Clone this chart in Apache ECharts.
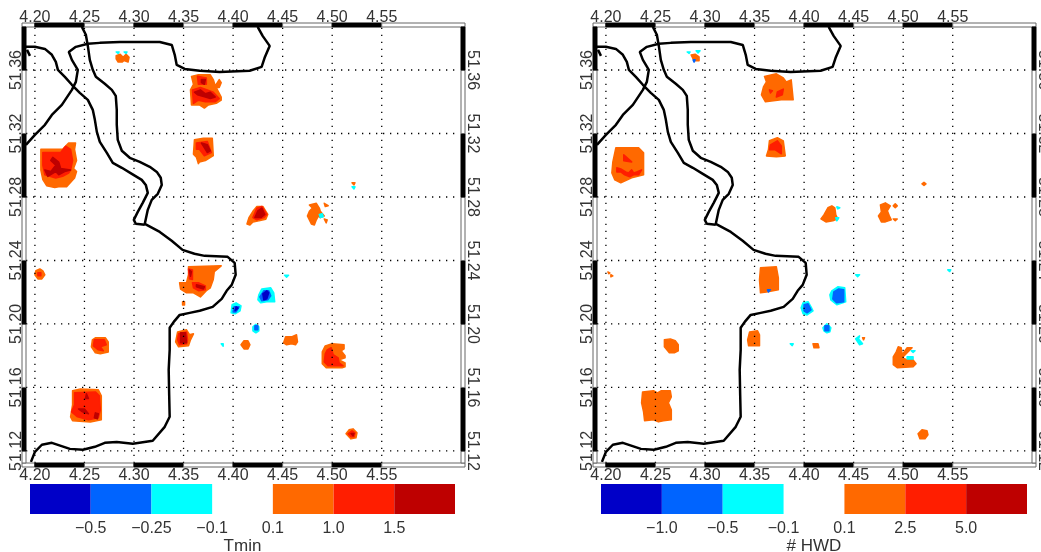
<!DOCTYPE html>
<html><head><meta charset="utf-8">
<style>html,body{margin:0;padding:0;background:#fff;overflow:hidden}#c{width:1041px;height:552px}</style>
<script src="https://cdn.jsdelivr.net/npm/echarts@6/dist/echarts.min.js"></script>
</head><body><div id="c"></div>
<script>
const lonTicks=[4.20,4.25,4.30,4.35,4.40,4.45,4.50,4.55];
const latTicks=[51.12,51.16,51.20,51.24,51.28,51.32,51.36];
const lonMin=4.191, lonMax=4.63, latMin=51.1124, latMax=51.3871;
const bins=['#0000c8','#0064ff','#00ffff',null,'#ff6900','#ff1e00','#be0000'];
const tminLabels=['\u22120.5','\u22120.25','\u22120.1','0.1','1.0','1.5'];
const hwdLabels=['\u22121.0','\u22120.5','\u22120.1','0.1','2.5','5.0'];

const coastA=[[4.2474,51.3872],[4.2514,51.3822],[4.2534,51.3752],[4.2554,51.3664],[4.2584,51.3601],[4.2615,51.3557],[4.2705,51.3513],[4.2776,51.3475],[4.2816,51.3437],[4.2826,51.3349],[4.2826,51.3255],[4.2836,51.3160],[4.2877,51.3091],[4.2957,51.3047],[4.3058,51.3021],[4.3159,51.2990],[4.3230,51.2958],[4.3270,51.2921],[4.3280,51.2876],[4.3240,51.2820],[4.3179,51.2782],[4.3139,51.2719],[4.3109,51.2631],[4.326,51.258],[4.338,51.2524],[4.349,51.2467],[4.361,51.2442],[4.3713,51.2429],[4.3945,51.2423],[4.4016,51.2385],[4.4026,51.2310],[4.3986,51.2246],[4.3935,51.2209],[4.3885,51.2158],[4.3794,51.2108],[4.3663,51.2083],[4.3562,51.2070],[4.3461,51.2057],[4.3401,51.2013],[4.336,51.1976],[4.336,51.1837],[4.335,51.1711],[4.3355,51.1553],[4.336,51.1415],[4.331,51.1352],[4.3189,51.1264],[4.2988,51.1245],[4.2826,51.1257],[4.2705,51.1251],[4.2605,51.1226],[4.2484,51.1207],[4.2353,51.1213],[4.2171,51.1251],[4.207,51.1239],[4.2,51.1194],[4.196,51.1131]];
const coastB=[[4.1909,51.3746],[4.2,51.3746],[4.2101,51.3733],[4.2171,51.3696],[4.2211,51.3651],[4.2232,51.3601],[4.2302,51.3557],[4.2373,51.3507],[4.2453,51.3456],[4.2534,51.3412],[4.2584,51.3349],[4.2605,51.3286],[4.2625,51.3210],[4.2655,51.3147],[4.2726,51.3078],[4.2786,51.3015],[4.2877,51.2984],[4.2978,51.2946],[4.3078,51.2908],[4.3119,51.2876],[4.3139,51.2826],[4.3088,51.2763],[4.3038,51.2706],[4.2998,51.2656],[4.3018,51.2631],[4.3109,51.2625]];
const coastC=[[4.1909,51.3128],[4.2,51.3191],[4.2101,51.3255],[4.2171,51.3317],[4.2272,51.3380],[4.2373,51.3475],[4.2413,51.3525],[4.2433,51.3601],[4.2373,51.3664],[4.2342,51.3714],[4.2413,51.3746],[4.2534,51.3765],[4.2655,51.3771],[4.2857,51.3777],[4.3058,51.3777],[4.326,51.3777],[4.3381,51.3758],[4.3411,51.3696],[4.3431,51.3632],[4.3512,51.3607],[4.3663,51.3595],[4.3865,51.3588],[4.4167,51.3595],[4.4288,51.3620],[4.4318,51.3677],[4.4369,51.3752],[4.4298,51.3815],[4.4248,51.3872]];
const coastD=[[4.192,51.3727],[4.195,51.3689]];

// Tmin regions: flat lon,lat lists per contour band
const tminOrange=[
[4.282,51.369,4.286,51.370,4.289,51.368,4.292,51.370,4.295,51.368,4.294,51.365,4.290,51.366,4.288,51.365,4.284,51.365,4.282,51.367],
[4.358,51.356,4.365,51.357,4.377,51.357,4.380,51.354,4.382,51.350,4.386,51.354,4.388,51.352,4.386,51.349,4.383,51.349,4.388,51.343,4.388,51.341,4.383,51.339,4.375,51.338,4.371,51.336,4.366,51.338,4.358,51.338,4.357,51.3475,4.360,51.351],
[4.361,51.316,4.370,51.317,4.379,51.317,4.380,51.306,4.372,51.303,4.366,51.302,4.365,51.301,4.363,51.305,4.360,51.307],
[4.206,51.310,4.228,51.310,4.234,51.314,4.241,51.314,4.240,51.310,4.242,51.303,4.239,51.298,4.242,51.296,4.240,51.292,4.232,51.2864,4.224,51.2864,4.220,51.286,4.212,51.287,4.208,51.291,4.206,51.297],
[4.414,51.263,4.416,51.267,4.420,51.271,4.424,51.274,4.430,51.274,4.435,51.269,4.433,51.266,4.426,51.265,4.420,51.2643,4.417,51.2624],
[4.477,51.275,4.484,51.276,4.487,51.273,4.488,51.271,4.492,51.268,4.488,51.267,4.486,51.268,4.484,51.2656,4.482,51.2624,4.479,51.263,4.475,51.268,4.477,51.271,4.480,51.273],
[4.492,51.276,4.496,51.2745,4.493,51.274],
[4.492,51.2662,4.495,51.2656,4.494,51.2637],
[4.520,51.289,4.523,51.289,4.522,51.2876],
[4.201,51.2335,4.205,51.2347,4.208,51.2335,4.210,51.231,4.207,51.2284,4.203,51.2284,4.200,51.231],
[4.355,51.236,4.388,51.2366,4.381,51.233,4.380,51.228,4.377,51.2228,4.373,51.221,4.367,51.217,4.360,51.2196,4.353,51.2196,4.347,51.222,4.346,51.226,4.353,51.226,4.355,51.231],
[4.349,51.214,4.351,51.214,4.351,51.212,4.349,51.212],
[4.344,51.195,4.353,51.1963,4.356,51.1932,4.360,51.1938,4.357,51.19,4.355,51.1862,4.345,51.1856,4.342,51.1887],
[4.258,51.19,4.261,51.1913,4.271,51.1913,4.274,51.1887,4.274,51.1824,4.266,51.1812,4.261,51.1818,4.257,51.1856],
[4.238,51.1579,4.246,51.1591,4.264,51.1585,4.267,51.1547,4.267,51.1396,4.256,51.1383,4.238,51.1390,4.236,51.1415,4.238,51.1490],
[4.408,51.1869,4.411,51.1894,4.415,51.1894,4.417,51.1869,4.415,51.1843,4.411,51.1843],
[4.453,51.1919,4.459,51.1919,4.464,51.1932,4.465,51.1887,4.463,51.1869,4.459,51.1875,4.454,51.1869,4.451,51.1881],
[4.493,51.1862,4.500,51.1875,4.512,51.1869,4.512,51.1843,4.509,51.1831,4.513,51.18,4.513,51.1787,4.507,51.1774,4.513,51.1755,4.513,51.173,4.510,51.1724,4.494,51.1724,4.490,51.1749,4.490,51.1824],
[4.514,51.1308,4.517,51.1333,4.521,51.1339,4.525,51.1314,4.524,51.1283,4.519,51.1276]
];
const tminRed=[
[4.359,51.3475,4.367,51.349,4.374,51.3475,4.380,51.346,4.386,51.342,4.382,51.340,4.372,51.340,4.365,51.341,4.360,51.339],
[4.364,51.356,4.373,51.355,4.373,51.351,4.365,51.351],
[4.363,51.314,4.374,51.315,4.378,51.308,4.371,51.306,4.366,51.310,4.363,51.310],
[4.208,51.308,4.226,51.308,4.231,51.312,4.236,51.310,4.238,51.303,4.236,51.297,4.234,51.295,4.228,51.293,4.221,51.292,4.210,51.294,4.208,51.300],
[4.420,51.267,4.424,51.273,4.429,51.274,4.434,51.269,4.431,51.267,4.424,51.2656],
[4.203,51.2322,4.206,51.2322,4.206,51.2303,4.203,51.2303],
[4.355,51.2347,4.359,51.234,4.359,51.228,4.356,51.2284],
[4.359,51.226,4.365,51.226,4.372,51.224,4.372,51.2215,4.365,51.221,4.360,51.2228],
[4.345,51.1938,4.353,51.195,4.354,51.19,4.353,51.1875,4.346,51.1869,4.344,51.19],
[4.260,51.19,4.270,51.19,4.272,51.1869,4.266,51.1856,4.269,51.1831,4.264,51.1837,4.259,51.1862],
[4.240,51.1566,4.261,51.1572,4.265,51.1547,4.266,51.1459,4.264,51.1409,4.254,51.1396,4.243,51.1415,4.237,51.1446,4.240,51.149],
[4.495,51.1837,4.499,51.185,4.501,51.1806,4.506,51.1787,4.507,51.1755,4.511,51.1736,4.496,51.1736,4.492,51.1761,4.493,51.1812],
[4.516,51.1308,4.520,51.1327,4.523,51.1314,4.522,51.1289,4.519,51.1289]
];
const tminDark=[
[4.361,51.346,4.367,51.3475,4.372,51.345,4.377,51.346,4.382,51.343,4.377,51.342,4.372,51.343,4.364,51.3444],
[4.368,51.354,4.372,51.354,4.371,51.351,4.368,51.352],
[4.368,51.314,4.374,51.313,4.377,51.309,4.374,51.308,4.370,51.312],
[4.218,51.305,4.224,51.302,4.226,51.298,4.236,51.297,4.230,51.296,4.224,51.294,4.221,51.296,4.213,51.293,4.210,51.297,4.216,51.296,4.221,51.300,4.216,51.303],
[4.422,51.267,4.425,51.2713,4.429,51.273,4.432,51.269,4.428,51.267],
[4.356,51.234,4.358,51.233,4.357,51.230],
[4.363,51.2247,4.371,51.2234,4.370,51.222,4.363,51.2234],
[4.347,51.1944,4.352,51.1944,4.353,51.1881,4.347,51.1881],
[4.244,51.1465,4.250,51.1465,4.254,51.1434,4.248,51.1446],
[4.261,51.144,4.264,51.1434,4.263,51.1402,4.260,51.1409],
[4.252,51.156,4.254,51.153,4.251,51.153],
[4.519,51.131,4.522,51.131,4.521,51.1295]
];
const tminCyan=[
[4.487,51.269,4.490,51.2694,4.491,51.2675,4.488,51.267],
[4.520,51.2864,4.523,51.2864,4.522,51.285],
[4.399,51.2121,4.403,51.2133,4.408,51.2114,4.407,51.2083,4.402,51.2064,4.398,51.207],
[4.420,51.1982,4.423,51.1998,4.426,51.1982,4.426,51.1957,4.423,51.1944,4.420,51.1957],
[4.426,51.2184,4.429,51.2221,4.438,51.2228,4.441,51.2196,4.442,51.214,4.434,51.214,4.428,51.2133,4.425,51.2152],
[4.388,51.1875,4.390,51.1875,4.39,51.186],
[4.452,51.2307,4.456,51.2307,4.454,51.2295],
[4.282,51.3714,4.285,51.3714,4.284,51.3705],
[4.290,51.3714,4.293,51.3714,4.292,51.3705]
];
const tminBlue=[
[4.401,51.2108,4.406,51.2108,4.403,51.2076,4.400,51.2076],
[4.422,51.1988,4.425,51.1988,4.425,51.1963,4.422,51.1963],
[4.427,51.217,4.431,51.2209,4.436,51.2209,4.438,51.2177,4.435,51.2152,4.429,51.2146]
];
const tminNavy=[
[4.403,51.2108,4.405,51.21,4.402,51.2083],
[4.430,51.219,4.434,51.2209,4.436,51.2196,4.434,51.2158,4.431,51.2152]
];

// HWD regions
const hwdOrange=[
[4.286,51.3695,4.290,51.370,4.294,51.3683,4.294,51.3658,4.289,51.3658],
[4.360,51.356,4.372,51.3576,4.379,51.355,4.382,51.3525,4.387,51.3538,4.388,51.3475,4.389,51.3412,4.377,51.3412,4.361,51.34,4.357,51.3444,4.359,51.3494,4.362,51.3525],
[4.365,51.3154,4.373,51.3173,4.379,51.3154,4.381,51.3059,4.372,51.3053,4.362,51.3059,4.364,51.3097],
[4.210,51.311,4.233,51.311,4.238,51.3078,4.238,51.294,4.226,51.2921,4.215,51.2889,4.209,51.2908,4.206,51.2952,4.207,51.3021],
[4.417,51.2662,4.420,51.2687,4.424,51.2732,4.428,51.2744,4.431,51.2732,4.432,51.2687,4.434,51.2662,4.429,51.2650,4.422,51.2643],
[4.477,51.275,4.482,51.2763,4.487,51.2744,4.484,51.2713,4.486,51.2681,4.488,51.2656,4.482,51.2643,4.478,51.2643,4.475,51.2681,4.478,51.2706],
[4.490,51.2744,4.492,51.2757,4.494,51.2744,4.492,51.2732],
[4.490,51.2662,4.494,51.2662,4.492,51.265],
[4.519,51.2883,4.521,51.2892,4.523,51.2883,4.521,51.2873],
[4.202,51.2328,4.204,51.2322,4.203,51.2316],
[4.205,51.2310,4.207,51.2303,4.205,51.2297],
[4.356,51.2354,4.372,51.236,4.374,51.2291,4.374,51.2215,4.362,51.2202,4.356,51.2196,4.355,51.2278],
[4.345,51.195,4.353,51.1957,4.355,51.1932,4.355,51.1862,4.344,51.1862,4.343,51.19],
[4.259,51.19,4.265,51.1906,4.270,51.1894,4.273,51.1869,4.273,51.1831,4.269,51.1818,4.264,51.1818,4.259,51.1856],
[4.237,51.1572,4.248,51.1579,4.252,51.1566,4.256,51.1579,4.265,51.1579,4.266,51.1541,4.263,51.1503,4.266,51.1459,4.266,51.1396,4.258,51.139,4.253,51.1383,4.248,51.1396,4.239,51.139,4.238,51.1446,4.236,51.1503],
[4.409,51.1875,4.414,51.1875,4.415,51.185,4.410,51.185],
[4.459,51.1913,4.461,51.1913,4.460,51.19],
[4.495,51.1856,4.498,51.185,4.499,51.1806,4.504,51.185,4.509,51.185,4.504,51.1818,4.499,51.1787,4.504,51.1774,4.510,51.1774,4.513,51.1749,4.510,51.173,4.494,51.1724,4.490,51.1743,4.490,51.1793,4.493,51.1824],
[4.515,51.1308,4.519,51.1333,4.524,51.1327,4.525,51.1302,4.522,51.1276,4.517,51.1276]
];
const hwdRed=[
[4.373,51.3462,4.379,51.348,4.378,51.3444,4.372,51.343],
[4.365,51.3475,4.368,51.3469,4.366,51.3456],
[4.366,51.3128,4.373,51.3154,4.377,51.3122,4.377,51.3072,4.371,51.3097,4.365,51.3097],
[4.218,51.3066,4.226,51.3021,4.218,51.3028],
[4.211,51.2984,4.215,51.2977,4.220,51.2958,4.223,51.2952,4.226,51.2971,4.228,51.2952,4.231,51.2958,4.236,51.2971,4.233,51.294,4.228,51.294,4.224,51.2927,4.219,51.294,4.215,51.2958,4.211,51.2958]
];
const hwdDark=[];
const hwdCyan=[
[4.282,51.3714,4.285,51.3714,4.284,51.3705],
[4.291,51.3721,4.295,51.3721,4.293,51.3708],
[4.433,51.2738,4.436,51.2732,4.434,51.2725],
[4.432,51.2669,4.435,51.2669,4.433,51.265],
[4.399,51.2133,4.404,51.214,4.407,51.2108,4.409,51.2083,4.403,51.2057,4.399,51.2064,4.397,51.2102],
[4.419,51.1976,4.423,51.2001,4.427,51.1976,4.426,51.1950,4.423,51.1944,4.420,51.1957],
[4.428,51.2209,4.434,51.2234,4.441,51.2228,4.442,51.214,4.433,51.2121,4.427,51.2152,4.426,51.2184],
[4.456,51.1925,4.452,51.1906,4.456,51.1869,4.459,51.1875,4.455,51.1905],
[4.504,51.1793,4.510,51.1793,4.510,51.178,4.504,51.178],
[4.508,51.1831,4.512,51.1831,4.510,51.182],
[4.452,51.231,4.456,51.231,4.454,51.2297],
[4.545,51.2341,4.548,51.2341,4.547,51.233],
[4.386,51.1875,4.389,51.1875,4.388,51.1863]
];
const hwdBlue=[
[4.288,51.3664,4.290,51.3664,4.289,51.365],
[4.363,51.2215,4.366,51.2215,4.364,51.2202],
[4.400,51.2121,4.404,51.2127,4.407,51.2089,4.403,51.207,4.400,51.2083],
[4.421,51.1988,4.425,51.1988,4.425,51.1957,4.421,51.1957],
[4.430,51.2202,4.435,51.2221,4.440,51.2215,4.440,51.214,4.433,51.2133,4.429,51.2158]
];
const hwdNavy=[];

const chart=echarts.init(document.getElementById('c'),null,{renderer:'canvas'});
const font={fontFamily:'Liberation Sans',fontSize:16,color:'#333'};

function polySeries(polys,color,idx){
  return {type:'custom',xAxisIndex:idx*2,yAxisIndex:idx*2,silent:true,animation:false,z:2,
    data:polys.map(p=>[p[0],p[1]]),
    renderItem(params,api){
      const p=polys[params.dataIndex],pts=[];
      for(let i=0;i<p.length;i+=2)pts.push(api.coord([p[i],p[i+1]]));
      return {type:'polygon',shape:{points:pts},style:{fill:color,stroke:color,lineWidth:1.5,lineJoin:'round'}};
    }};
}
function lineSeries(pts,idx,style,z){
  return {type:'line',xAxisIndex:idx*2,yAxisIndex:idx*2,data:pts,symbol:'none',silent:true,animation:false,z,lineStyle:style};
}
function frameSeries(idx){
  const lonEdges=[lonMin,...lonTicks,lonMax],latEdges=[latMin,...latTicks,latMax],items=[];
  for(let i=0;i<lonEdges.length-1;i++){items.push(['x',lonEdges[i],lonEdges[i+1],i%2===1?1:0,latMax,i,lonEdges.length-2]);items.push(['x',lonEdges[i],lonEdges[i+1],i%2===1?1:0,latMin,i,lonEdges.length-2]);}
  for(let i=0;i<latEdges.length-1;i++){items.push(['y',latEdges[i],latEdges[i+1],i%2===1?1:0,lonMin,i,0]);items.push(['y',latEdges[i],latEdges[i+1],i%2===1?1:0,lonMax,i,0]);}
  return {type:'custom',xAxisIndex:idx*2,yAxisIndex:idx*2,silent:true,animation:false,z:6,clip:false,
    data:items.map((d,i)=>[lonMin,latMin,i]),
    renderItem(params,api){
      const d=items[params.dataIndex],t=4;let x,y,w,h;
      if(d[0]==='x'){
        const a=api.coord([d[1],d[4]]),b=api.coord([d[2],d[4]]);
        x=a[0];w=b[0]-a[0];h=t;y=d[4]===latMax?a[1]-t:a[1];
        if(d[5]===0){x-=t;w+=t;} if(d[5]===d[6]){w+=t;}
      }else{
        const a=api.coord([d[4],d[2]]),b=api.coord([d[4],d[1]]);
        y=a[1];h=b[1]-a[1];w=t;x=d[4]===lonMin?a[0]-t:a[0];
      }
      return {type:'rect',shape:{x,y,width:w,height:h},style:{fill:d[3]?'#000':'#fff',stroke:d[3]?'#000':'#666',lineWidth:1}};
    }};
}
function mapAxes(grid){
  const lab=(rot,margin)=>({show:true,...font,margin,rotate:rot,showMinLabel:true,showMaxLabel:true,hideOverlap:false,formatter:v=>v.toFixed(2)});
  const base={type:'value',gridIndex:grid,axisLine:{show:false},axisTick:{show:false},splitLine:{show:false},scale:true};
  return {
    x:[{...base,position:'bottom',min:lonMin,max:lonMax,axisLabel:{...lab(0,5),customValues:lonTicks}},
       {...base,position:'top',min:lonMin,max:lonMax,axisLabel:{...lab(0,1),customValues:lonTicks}}],
    y:[{...base,position:'left',min:latMin,max:latMax,axisLabel:{...lab(90,1),customValues:latTicks}},
       {...base,position:'right',min:latMin,max:latMax,axisLabel:{...lab(-90,3),customValues:latTicks}}]
  };
}
function barAxes(grid,labels,title){
  return {
    x:{type:'value',gridIndex:grid,min:0,max:7,interval:1,axisLine:{show:false},axisTick:{show:false},splitLine:{show:false},
       name:title,nameLocation:'middle',nameGap:24,nameTextStyle:{fontFamily:'Liberation Sans',fontSize:17,color:'#333'},
       axisLabel:{...font,margin:7,showMinLabel:false,showMaxLabel:false,formatter:v=>labels[v-1]||''}},
    y:{type:'value',gridIndex:grid,min:0,max:1,show:false}
  };
}
function barSeries(axisIdx){
  const cells=bins.map((c,i)=>[i,i+1,c]).filter(c=>c[2]);
  return {type:'custom',xAxisIndex:axisIdx,yAxisIndex:axisIdx,silent:true,animation:false,
    data:cells.map(c=>[c[0],0]),
    renderItem(params,api){
      const c=cells[params.dataIndex],a=api.coord([c[0],1]),b=api.coord([c[1],0]);
      return {type:'rect',shape:{x:a[0],y:a[1],width:b[0]-a[0],height:b[1]-a[1]},style:{fill:c[2]}};
    }};
}
function panel(idx,sets){
  const s=[];
  sets.forEach(([polys,color])=>{if(polys.length)s.push(polySeries(polys,color,idx));});
  const dot={color:'#000',width:1.3,type:[1.3,5.7]};
  latTicks.forEach(v=>s.push(lineSeries([[lonMin,v],[lonMin+0.433,v]],idx,dot,3)));
  lonTicks.forEach(v=>s.push(lineSeries([[v,latMin],[v,latMax]],idx,dot,3)));
  const coast={color:'#000',width:2.5};
  [coastA,coastB,coastC,coastD].forEach(c=>s.push(lineSeries(c,idx,coast,4)));
  s.push(frameSeries(idx));
  return s;
}
const a0=mapAxes(0),a1=mapAxes(1),b0=barAxes(2,tminLabels,'Tmin'),b1=barAxes(3,hwdLabels,'# HWD');
const gridBase={outerBoundsMode:'none',containLabel:false};
chart.setOption({
  animation:false,backgroundColor:'#fff',
  grid:[{...gridBase,left:26,top:27,width:435,height:436},{...gridBase,left:597,top:27,width:435,height:436},
        {...gridBase,left:30,top:484,width:425,height:30},{...gridBase,left:601,top:484,width:426,height:30}],
  xAxis:[...a0.x,...a1.x,b0.x,b1.x],
  yAxis:[...a0.y,...a1.y,b0.y,b1.y],
  series:[
    ...panel(0,[[tminOrange,bins[4]],[tminRed,bins[5]],[tminDark,bins[6]],[tminCyan,bins[2]],[tminBlue,bins[1]],[tminNavy,bins[0]]]),
    ...panel(1,[[hwdOrange,bins[4]],[hwdRed,bins[5]],[hwdDark,bins[6]],[hwdCyan,bins[2]],[hwdBlue,bins[1]],[hwdNavy,bins[0]]]),
    barSeries(4),barSeries(5)
  ]
});
</script></body></html>
